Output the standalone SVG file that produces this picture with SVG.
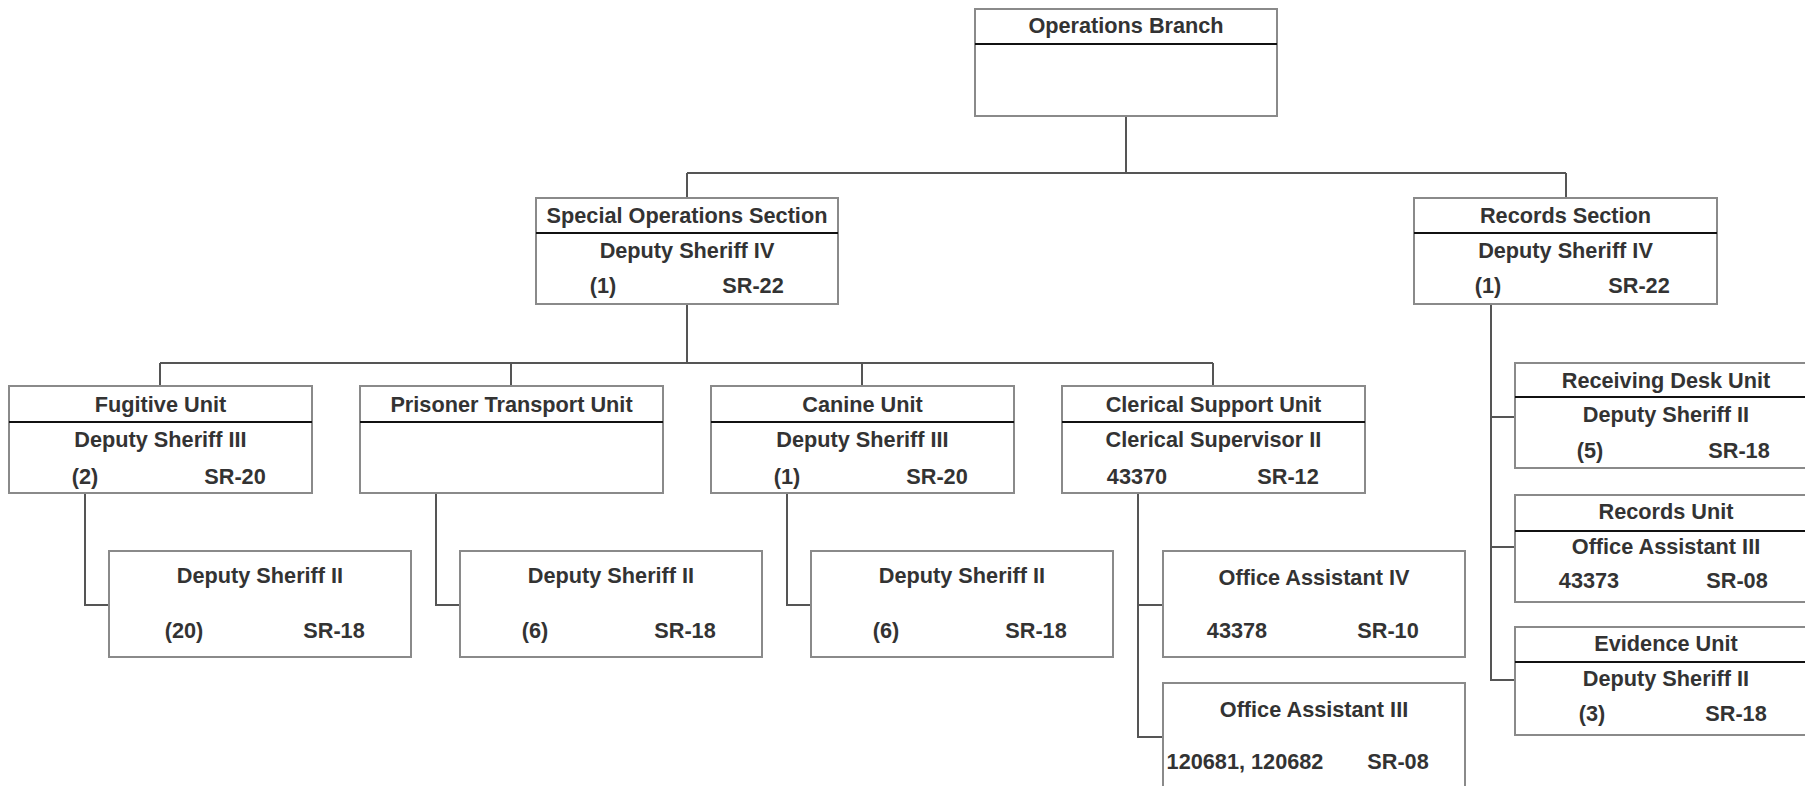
<svg xmlns="http://www.w3.org/2000/svg" width="1805" height="786" viewBox="0 0 1805 786">
<style>
.box{fill:#fff;stroke:#8a8a8a;stroke-width:2}
.div{stroke:#111;stroke-width:2}
.t{font-family:"Liberation Sans",Arial,sans-serif;font-weight:bold;font-size:21.7px;fill:#333;text-anchor:middle}
.c{fill:none;stroke:#555;stroke-width:2}
</style>
<rect width="1805" height="786" fill="#fff"/>
<g id="connectors">
<path class="c" d="M1126 116V173M687 173H1566M687 173V198M1566 173V198"/>
<path class="c" d="M687 304V363M160 363H1213M160 363V386M511 363V386M862 363V386M1213 363V386"/>
<path class="c" d="M85 493V605H109M436 493V605H460M787 493V605H811M1138 493V737H1163M1138 605H1163"/>
<path class="c" d="M1491 304V680H1515M1491 417H1515M1491 547H1515"/>
</g>
<g id="ops-branch">
<rect class="box" x="975" y="9" width="302" height="107"/>
<line class="div" x1="975" y1="44" x2="1277" y2="44"/>
<text class="t" x="1126" y="33">Operations Branch</text>
</g>
<g id="special-ops">
<rect class="box" x="536" y="198" width="302" height="106"/>
<line class="div" x1="536" y1="233" x2="838" y2="233"/>
<text class="t" x="687" y="223">Special Operations Section</text>
<text class="t" x="687" y="258">Deputy Sheriff IV</text>
<text class="t" x="603" y="293">(1)</text>
<text class="t" x="753" y="293">SR-22</text>
</g>
<g id="records-section">
<rect class="box" x="1414" y="198" width="303" height="106"/>
<line class="div" x1="1414" y1="233" x2="1717" y2="233"/>
<text class="t" x="1565.5" y="223">Records Section</text>
<text class="t" x="1565.5" y="258">Deputy Sheriff IV</text>
<text class="t" x="1488" y="293">(1)</text>
<text class="t" x="1639" y="293">SR-22</text>
</g>
<g id="fugitive">
<rect class="box" x="9" y="386" width="303" height="107"/>
<line class="div" x1="9" y1="422" x2="312" y2="422"/>
<text class="t" x="160.5" y="412">Fugitive Unit</text>
<text class="t" x="160.5" y="447">Deputy Sheriff III</text>
<text class="t" x="85" y="484">(2)</text>
<text class="t" x="235" y="484">SR-20</text>
</g>
<g id="prisoner">
<rect class="box" x="360" y="386" width="303" height="107"/>
<line class="div" x1="360" y1="422" x2="663" y2="422"/>
<text class="t" x="511.5" y="412">Prisoner Transport Unit</text>
</g>
<g id="canine">
<rect class="box" x="711" y="386" width="303" height="107"/>
<line class="div" x1="711" y1="422" x2="1014" y2="422"/>
<text class="t" x="862.5" y="412">Canine Unit</text>
<text class="t" x="862.5" y="447">Deputy Sheriff III</text>
<text class="t" x="787" y="484">(1)</text>
<text class="t" x="937" y="484">SR-20</text>
</g>
<g id="clerical">
<rect class="box" x="1062" y="386" width="303" height="107"/>
<line class="div" x1="1062" y1="422" x2="1365" y2="422"/>
<text class="t" x="1213.5" y="412">Clerical Support Unit</text>
<text class="t" x="1213.5" y="447">Clerical Supervisor II</text>
<text class="t" x="1137" y="484">43370</text>
<text class="t" x="1288" y="484">SR-12</text>
</g>
<g id="fugitive-ds2">
<rect class="box" x="109" y="551" width="302" height="106"/>
<text class="t" x="260" y="583">Deputy Sheriff II</text>
<text class="t" x="184" y="638">(20)</text>
<text class="t" x="334" y="638">SR-18</text>
</g>
<g id="prisoner-ds2">
<rect class="box" x="460" y="551" width="302" height="106"/>
<text class="t" x="611" y="583">Deputy Sheriff II</text>
<text class="t" x="535" y="638">(6)</text>
<text class="t" x="685" y="638">SR-18</text>
</g>
<g id="canine-ds2">
<rect class="box" x="811" y="551" width="302" height="106"/>
<text class="t" x="962" y="583">Deputy Sheriff II</text>
<text class="t" x="886" y="638">(6)</text>
<text class="t" x="1036" y="638">SR-18</text>
</g>
<g id="oa4">
<rect class="box" x="1163" y="551" width="302" height="106"/>
<text class="t" x="1314" y="585">Office Assistant IV</text>
<text class="t" x="1237" y="638">43378</text>
<text class="t" x="1388" y="638">SR-10</text>
</g>
<g id="oa3">
<rect class="box" x="1163" y="683" width="302" height="106"/>
<text class="t" x="1314" y="717">Office Assistant III</text>
<text class="t" x="1245" y="769">120681, 120682</text>
<text class="t" x="1398" y="769">SR-08</text>
</g>
<g id="receiving">
<rect class="box" x="1515" y="363" width="302" height="105"/>
<line class="div" x1="1515" y1="397" x2="1817" y2="397"/>
<text class="t" x="1666" y="388">Receiving Desk Unit</text>
<text class="t" x="1666" y="422">Deputy Sheriff II</text>
<text class="t" x="1590" y="458">(5)</text>
<text class="t" x="1739" y="458">SR-18</text>
</g>
<g id="records-unit">
<rect class="box" x="1515" y="495" width="302" height="107"/>
<line class="div" x1="1515" y1="531" x2="1817" y2="531"/>
<text class="t" x="1666" y="519">Records Unit</text>
<text class="t" x="1666" y="554">Office Assistant III</text>
<text class="t" x="1589" y="588">43373</text>
<text class="t" x="1737" y="588">SR-08</text>
</g>
<g id="evidence">
<rect class="box" x="1515" y="627" width="302" height="108"/>
<line class="div" x1="1515" y1="662" x2="1817" y2="662"/>
<text class="t" x="1666" y="651">Evidence Unit</text>
<text class="t" x="1666" y="686">Deputy Sheriff II</text>
<text class="t" x="1592" y="721">(3)</text>
<text class="t" x="1736" y="721">SR-18</text>
</g>
</svg>
